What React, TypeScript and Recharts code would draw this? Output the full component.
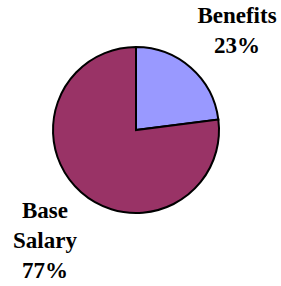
import { PieChart, Pie, Cell } from "recharts";

const categories = ["Benefits", "Base Salary"];
const values = [23, 77];
const labelLines = [["Benefits", "23%"], ["Base", "Salary", "77%"]];
const colors = ["#9999FF", "#993366"];

const data = categories.map((name, i) => ({ name, value: values[i] }));

// label block placement relative to pie centre (x of text centre, first baseline)
const labelOffsets = [
  { dx: 101, dy: -107 },
  { dx: -91, dy: 88 },
];

const labelStyle = {
  fontFamily: '"Liberation Serif", "Times New Roman", serif',
  fontWeight: 700,
  fontSize: 23,
};

const renderLabel = (props: any) => {
  const { cx, cy, index } = props;
  const off = labelOffsets[index];
  const lines = labelLines[index];
  return (
    <text
      key={index}
      x={cx + off.dx}
      y={cy + off.dy}
      textAnchor="middle"
      style={labelStyle}
      fill="#000"
    >
      {lines.map((l, i) => (
        <tspan key={i} x={cx + off.dx} dy={i === 0 ? 0 : 30}>
          {l}
        </tspan>
      ))}
    </text>
  );
};

export default function App() {
  return (
    <div style={{ position: "absolute", left: 0, top: 0, background: "#fff" }}>
      <PieChart width={281} height={286} margin={{ top: 0, right: 0, bottom: 0, left: 0 }}>
        <Pie
          data={data}
          dataKey="value"
          nameKey="name"
          cx={136}
          cy={130}
          outerRadius={83}
          startAngle={90}
          endAngle={-270}
          stroke="#000"
          strokeWidth={2}
          label={renderLabel}
          labelLine={false}
          isAnimationActive={false}
        >
          {data.map((d, i) => (
            <Cell key={d.name} fill={colors[i]} />
          ))}
        </Pie>
      </PieChart>
    </div>
  );
}
